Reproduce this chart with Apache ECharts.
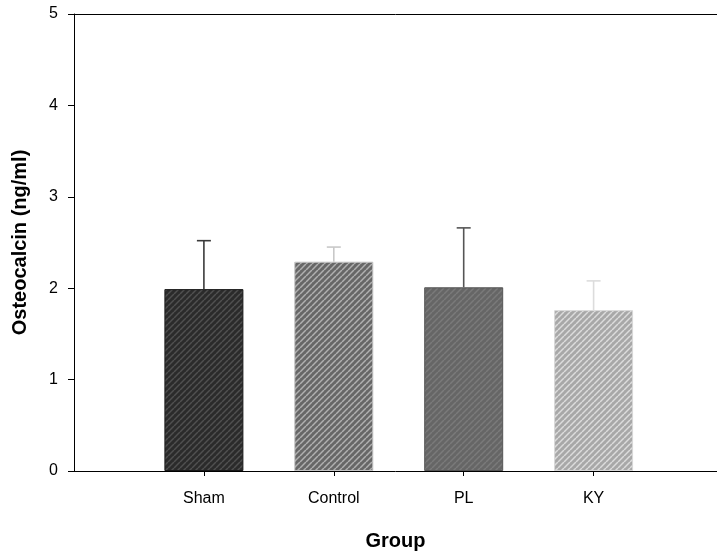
<!DOCTYPE html>
<html>
<head>
<meta charset="utf-8">
<script src="https://cdn.jsdelivr.net/npm/echarts@6/dist/echarts.min.js"></script>
<style>
  html, body { margin: 0; padding: 0; background: #fff; }
  #chart { width: 717px; height: 551px; }
</style>
</head>
<body>
<div id="chart"></div>
<script>
// Osteocalcin by treatment group, mean with upper SD bar
const groups = ['Sham', 'Control', 'PL', 'KY'];
const means = [1.99, 2.29, 2.01, 1.76];
const upperErr = [2.52, 2.45, 2.66, 2.08];
const yTicks = [0, 1, 2, 3, 4, 5];

// bar styling per group: base fill, hatch stroke, border, error bar colour
const fills = ['#2b2b2b', '#676767', '#666666', '#a8a8a8'];
const hatch = ['#505050', '#b0b0b0', '#7a7a7a', '#dcdcdc'];
const borders = ['#1a1a1a', '#c4c4c4', '#555555', '#d8d8d8'];
const whiskers = ['#3a3a3a', '#c8c8c8', '#555555', '#dcdcdc'];

// diagonal "/" hatch tile
function hatchPattern(bg, fg) {
  const s = 6;
  const c = document.createElement('canvas');
  c.width = s; c.height = s;
  const g = c.getContext('2d');
  g.fillStyle = bg;
  g.fillRect(0, 0, s, s);
  g.strokeStyle = fg;
  g.lineWidth = 1.5;
  for (let k = -1; k <= 1; k++) {
    g.beginPath();
    g.moveTo(k * s, s);
    g.lineTo(k * s + s, 0);
    g.stroke();
  }
  return { image: c, repeat: 'repeat' };
}

const positions = groups.map((_, i) => i + 1);
const barData = means.map((v, i) => ({
  value: [positions[i], v],
  itemStyle: {
    color: hatchPattern(fills[i], hatch[i]),
    borderColor: borders[i],
    borderWidth: 1
  }
}));
const errData = means.map((v, i) => [positions[i], v, upperErr[i], i]);

const chart = echarts.init(document.getElementById('chart'), null, { renderer: 'canvas' });
const font = 'Liberation Sans, Arial, sans-serif';

chart.setOption({
  animation: false,
  backgroundColor: '#ffffff',
  grid: { left: 74, right: 0, top: 14, bottom: 80, containLabel: false, outerBoundsMode: 'none' },
  xAxis: [{
    type: 'value',
    min: 0,
    max: 4.95,
    interval: 1,
    name: 'Group',
    nameLocation: 'middle',
    nameGap: 60,
    nameTextStyle: { fontFamily: font, fontSize: 20, fontWeight: 'bold', color: '#000' },
    splitLine: { show: false },
    axisLine: { show: true, lineStyle: { color: '#000', width: 1 } },
    axisTick: { show: true, customValues: positions, length: 5, inside: false, lineStyle: { color: '#000' } },
    axisLabel: {
      customValues: positions,
      formatter: v => groups[Math.round(v) - 1] || '',
      margin: 20,
      fontFamily: font, fontSize: 16, color: '#000'
    }
  }, {
    type: 'value',
    position: 'top',
    min: 0,
    max: 4.95,
    axisLine: { show: true, lineStyle: { color: '#000', width: 1 } },
    axisTick: { show: false },
    axisLabel: { show: false },
    splitLine: { show: false }
  }],
  yAxis: {
    type: 'value',
    min: yTicks[0],
    max: yTicks[yTicks.length - 1],
    interval: 1,
    name: 'Osteocalcin (ng/ml)',
    nameLocation: 'middle',
    nameGap: 44,
    nameTextStyle: { fontFamily: font, fontSize: 20, fontWeight: 'bold', color: '#000' },
    splitLine: { show: false },
    axisLine: { show: true, lineStyle: { color: '#000', width: 1 } },
    axisTick: { show: true, length: 6, lineStyle: { color: '#000' } },
    axisLabel: { margin: 16, fontFamily: font, fontSize: 16, color: '#000' }
  },
  series: [{
    type: 'bar',
    barWidth: 79,
    data: barData,
    z: 2
  }, {
    type: 'custom',
    data: errData,
    z: 3,
    renderItem: function (params, api) {
      const x = api.value(0);
      const top = api.coord([x, api.value(2)]);
      const base = api.coord([x, api.value(1)]);
      const col = whiskers[api.value(3)];
      const half = 7;
      return {
        type: 'group',
        children: [{
          type: 'line',
          shape: { x1: top[0], y1: base[1], x2: top[0], y2: top[1] },
          style: { stroke: col, lineWidth: 1.6 }
        }, {
          type: 'line',
          shape: { x1: top[0] - half, y1: top[1], x2: top[0] + half, y2: top[1] },
          style: { stroke: col, lineWidth: 1.6 }
        }]
      };
    }
  }]
});
</script>
</body>
</html>
